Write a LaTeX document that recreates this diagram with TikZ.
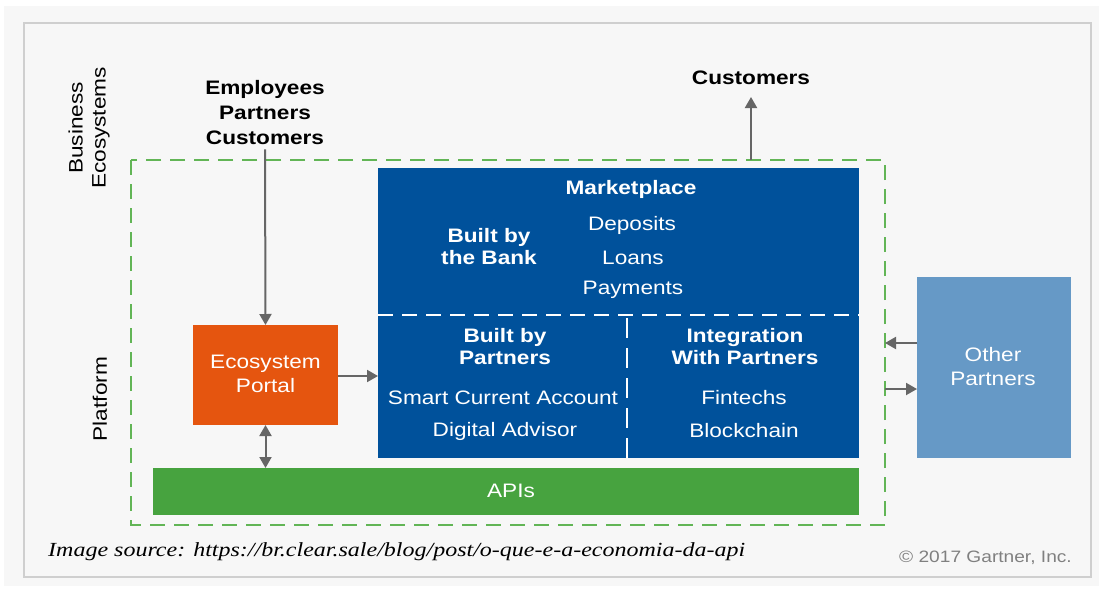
\documentclass[tikz,border=0pt]{standalone}
\usepackage{fontspec}
\setmainfont{Liberation Sans}[FakeStretch=1.16]
\newfontfamily\captionfont{Liberation Serif}
\usetikzlibrary{arrows.meta}
\definecolor{panelbg}{HTML}{F7F7F7}
\definecolor{panelline}{HTML}{CFCFCF}
\definecolor{ecogreen}{HTML}{62B556}
\definecolor{bankblue}{HTML}{00519B}
\definecolor{portalorange}{HTML}{E5550F}
\definecolor{apigreen}{HTML}{47A33F}
\definecolor{partnerblue}{HTML}{6699C6}
\definecolor{arrowgray}{HTML}{666666}
\tikzset{
  blk/.style={draw=none, inner sep=0pt, outer sep=0pt},
  wtxt/.style={text=white, font=\fontsize{19.5}{24}\selectfont, align=center, inner sep=0pt},
  wbold/.style={wtxt, font=\fontsize{19.5}{22}\selectfont\bfseries},
  ktxt/.style={text=black, font=\fontsize{19.5}{25}\selectfont\bfseries, align=center, inner sep=0pt},
  flow/.style={draw=arrowgray, line width=2pt, -{Triangle[length=11pt,width=12pt]}},
  flow2/.style={draw=arrowgray, line width=2pt, {Triangle[length=11pt,width=12pt]}-{Triangle[length=11pt,width=12pt]}},
  sep/.style={draw=white, line width=2.5pt, dash pattern=on 15pt off 9pt}
}
\begin{document}
\begin{tikzpicture}[x=1pt, y=-1pt]
\useasboundingbox (0,0) rectangle (1104,592);
\fill[white] (0,0) rectangle (1104,592);
% outer panel
\fill[panelbg] (4,6) rectangle (1099,586);
\draw[panelline, line width=1.2pt, fill=panelbg] (24,23) rectangle (1091,577);

% ecosystem dashed boundary
\draw[ecogreen, line width=2.6pt, dash pattern=on 15pt off 9pt] (131,160) rectangle (885,525);
\coordinate (ecotop) at (751,160);
\coordinate (ecoin) at (885,343);
\coordinate (ecoout) at (885,389);

% side labels
\node[rotate=90, font=\fontsize{19.5}{23}\selectfont, align=center, inner sep=0pt] (bizlbl) at (89,128) {Business\\Ecosystems};
\node[rotate=90, font=\fontsize{19.5}{23}\selectfont, inner sep=0pt] (platlbl) at (100,399) {Platform};

% top labels
\node[ktxt] (users) at (265,113) {Employees\\Partners\\Customers};
\node[ktxt] (cust) at (751,78) {Customers};

% marketplace block
\path[blk, fill=bankblue] (378,168) rectangle (859,458);
\node[blk, minimum width=481pt, minimum height=290pt] (market) at (618.5,313) {};
\draw[sep] (378,315) -- (859,315);
\draw[sep, dash pattern=on 20pt off 10pt] (627,318) -- (627,458);
\node[wbold] (mkt) at (631,189) {Marketplace};
\node[wbold] (bank) at (489,247) {Built by\\the Bank};
\node[wtxt] (dep) at (632,225) {Deposits};
\node[wtxt] (loan) at (633,258) {Loans};
\node[wtxt] (pay) at (633,290) {Payments};
\node[wbold] (bpart) at (505,347) {Built by\\Partners};
\node[wbold] (integ) at (745,347) {Integration\\With Partners};
\node[wtxt] (smart) at (503,398) {Smart Current Account};
\node[wtxt] (advisor) at (505,431) {Digital Advisor};
\node[wtxt] (fin) at (744,398) {Fintechs};
\node[wtxt] (chain) at (744,431) {Blockchain};

% portal
\node[blk, fill=portalorange, minimum width=145pt, minimum height=100pt] (portal) at (265.5,375) {};
\node[wtxt] (portaltxt) at (265.5,374) {Ecosystem\\Portal};

% APIs
\node[blk, fill=apigreen, minimum width=706pt, minimum height=47pt] (apis) at (506,491.5) {};
\node[wtxt] (apitxt) at (511,491) {APIs};

% other partners
\node[blk, fill=partnerblue, minimum width=154pt, minimum height=181pt] (other) at (994,367.5) {};
\node[wtxt] (othertxt) at (993,367) {Other\\Partners};

% connectors
\draw[flow] (users.south) ++(0,4) -- (portal.north);
\draw[flow] (ecotop) -- (751,97);
\draw[flow] (portal.east |- 0,376) -- (378,376);
\draw[flow2] (portal.south) -- (apis.north -| portal.south);
\draw[flow] (other.west |- ecoin) -- (ecoin);
\draw[flow] (ecoout) -- (other.west |- ecoout);

% footer
\node[anchor=west, inner sep=0pt, font=\captionfont\itshape\fontsize{20}{22}\selectfont] (src) at (48,552) {\scalebox{1.2}[1]{Image source: https://br.clear.sale/blog/post/o-que-e-a-economia-da-api}};
\node[anchor=east, inner sep=0pt, text=gray, font=\fontsize{16.5}{18}\selectfont] (copy) at (1072,558) {\textcopyright{} 2017 Gartner, Inc.};
\end{tikzpicture}
\end{document}
